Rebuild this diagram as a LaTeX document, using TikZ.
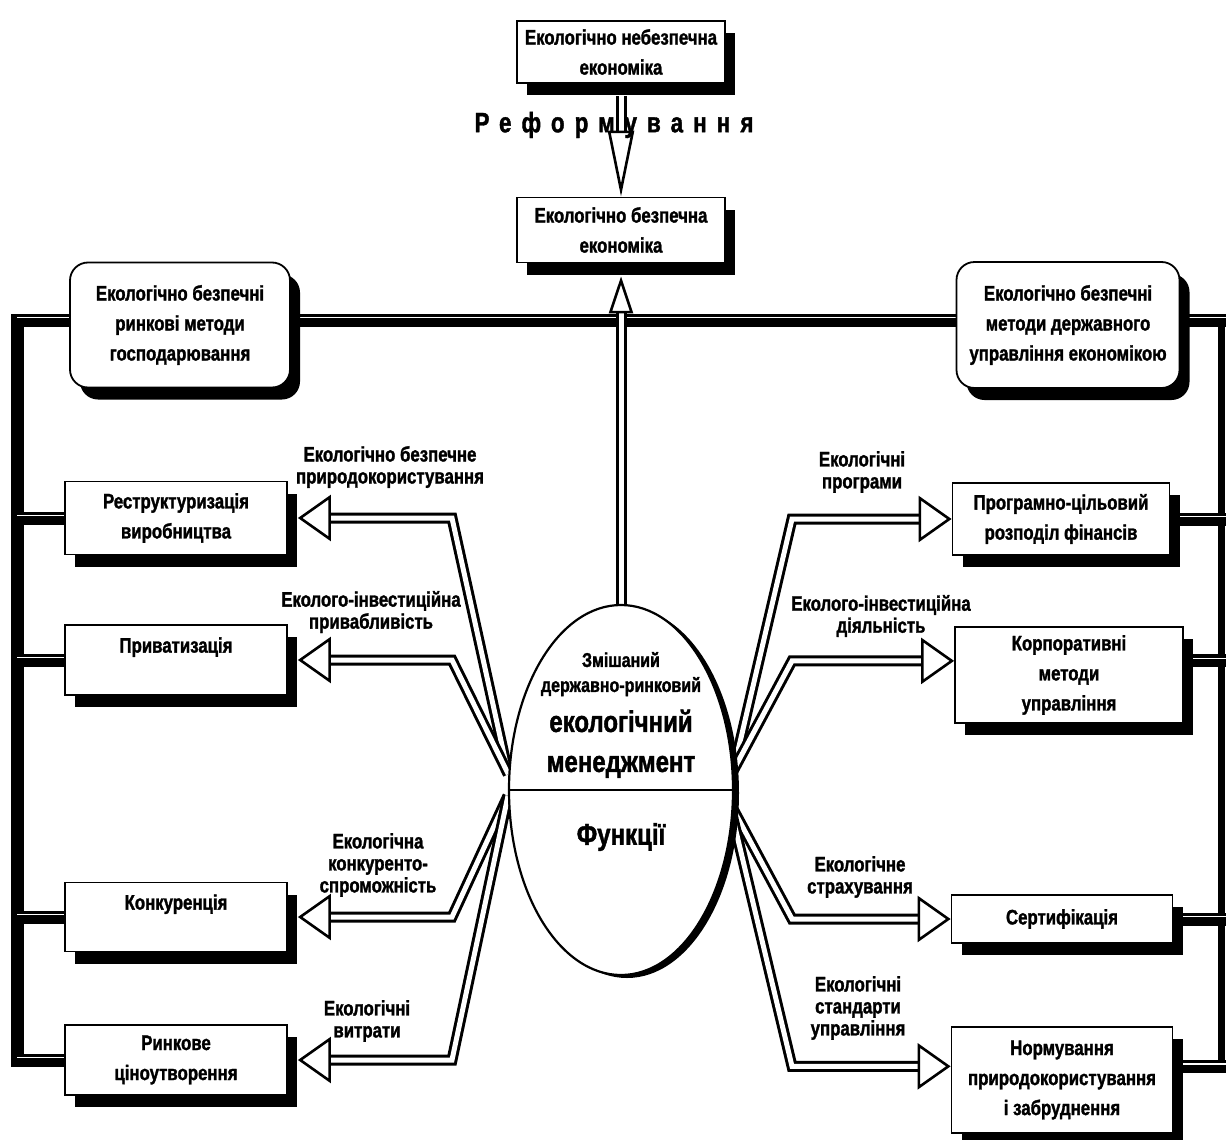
\documentclass[tikz,border=0pt]{standalone}
\usepackage{fontspec}
\setmainfont{Liberation Sans}[FakeStretch=0.8,BoldFeatures={FakeBold=1.4}]
\usetikzlibrary{arrows.meta,shapes.geometric,shadows,backgrounds}

\begin{document}
\begin{tikzpicture}[yscale=-1
    ,every node/.style={font=\bfseries\fontsize{21}{30}\selectfont,align=center,inner sep=0pt}
    ,box/.style={draw,fill=white,line width=1.8pt,drop shadow={shadow xshift=10pt,shadow yshift=-12pt,fill=black,opacity=1}}
    ,rbox/.style={box,rounded corners=18pt}
    ,lbl/.style={font=\bfseries\fontsize{21}{22}\selectfont}
    ,frameline/.style={draw=black,line width=13pt}
    ,framestripe/.style={draw=white,line width=1.6pt,transform canvas={yshift=2.5pt}}
    ,flow/.style={line width=3pt,double=white,double distance=5pt,
        -{Triangle[length=33pt,width=46pt,fill=white,line width=2.6pt]}}
  ]
  \useasboundingbox (0pt,0pt) rectangle (1226pt,1140pt);
  \coordinate (ltop) at (17pt,320pt);
  \coordinate (rtop) at (1221pt,320pt);
  \coordinate (redge) at (1226pt,320pt);
  \coordinate (lbend) at (452pt,0pt);
  \coordinate (rbend) at (792pt,0pt);

  % economy
  \node[box,minimum width=208pt,minimum height=62pt] (unsafe) at (621pt,52pt) {Екологічно небезпечна\\економіка};
  \node[box,minimum width=208pt,minimum height=65pt] (safe) at (621pt,230pt) {Екологічно безпечна\\економіка};
  \node[font=\bfseries\fontsize{28}{30}\selectfont\addfontfeature{LetterSpace=36}] (reform) at (614pt,125pt) {Реформування};

  % methods
  \node[rbox,minimum width=220pt,minimum height=125pt] (mkt) at (180pt,325pt) {Екологічно безпечні\\ринкові методи\\господарювання};
  \node[rbox,minimum width=223pt,minimum height=126pt] (state) at (1068pt,325pt) {Екологічно безпечні\\методи державного\\управління економікою};

  % centre
  \node[ellipse,draw,fill=white,line width=2.2pt,minimum width=224pt,minimum height=370pt,
        drop shadow={shadow xshift=6pt,shadow yshift=-3pt,fill=black,opacity=1}] (core) at (621pt,790pt) {};
  \draw[line width=2.2pt] (core.west) -- (core.east);
  \node[font=\bfseries\fontsize{30}{40}\selectfont] (coretitle) at (621pt,715pt)
    {{\fontsize{20}{25}\selectfont Змішаний}\\[-15pt]{\fontsize{20}{25}\selectfont державно-ринковий}\\екологічний\\менеджмент};
  \node[font=\bfseries\fontsize{30}{40}\selectfont] (funcs) at (621pt,837pt) {Функції};

  % left boxes
  \node[box,minimum width=222pt,minimum height=73pt] (restr) at (176pt,518pt) {Реструктуризація\\виробництва};
  \node[box,minimum width=222pt,minimum height=70pt] (priv) at (176pt,660pt) {Приватизація\\~};
  \node[box,minimum width=222pt,minimum height=69pt] (comp) at (176pt,917pt) {Конкуренція\\~};
  \node[box,minimum width=222pt,minimum height=70pt] (price) at (176pt,1060pt) {Ринкове\\ціноутворення};

  % right boxes
  \node[box,minimum width=217pt,minimum height=72pt] (prog) at (1061pt,519pt) {Програмно-цільовий\\розподіл фінансів};
  \node[box,minimum width=228pt,minimum height=96pt] (corp) at (1069pt,675pt) {Корпоративні\\методи\\управління};
  \node[box,minimum width=221pt,minimum height=48pt] (cert) at (1062pt,919pt) {Сертифікація};
  \node[box,minimum width=221pt,minimum height=106pt] (norm) at (1062pt,1080pt) {Нормування\\природокористування\\і забруднення};

  % labels
  \node[lbl] (l1) at (390pt,467pt) {Екологічно безпечне\\природокористування};
  \node[lbl] (l2) at (371pt,612pt) {Еколого-інвестиційна\\привабливість};
  \node[lbl] (l3) at (378pt,865pt) {Екологічна\\конкуренто-\\спроможність};
  \node[lbl] (l4) at (367pt,1021pt) {Екологічні\\витрати};
  \node[lbl] (r1) at (862pt,472pt) {Екологічні\\програми};
  \node[lbl] (r2) at (881pt,616pt) {Еколого-інвестиційна\\діяльність};
  \node[lbl] (r3) at (860pt,877pt) {Екологічне\\страхування};
  \node[lbl] (r4) at (858pt,1008pt) {Екологічні\\стандарти\\управління};

  \begin{scope}[on background layer]
    % frame lines
    \path[frameline] (redge) -- (ltop) -- (ltop |- price.west) -- (price.west);
    \path[frameline,line width=7pt] (rtop) -- (rtop |- norm.7);
    % horizontal ones carry a thin white stripe
    \foreach \s in {frameline,framestripe} {
      \path[\s] (ltop) -- (redge);
      \path[\s] (restr.west -| ltop) -- (restr.west);
      \path[\s] (priv.west -| ltop) -- (priv.west);
      \path[\s] (comp.west -| ltop) -- (comp.west);
      \path[\s] (price.west -| ltop) -- (price.west);
      \path[\s] (prog.east) -- (prog.east -| redge);
      \path[\s] (corp.7) -- (corp.7 -| redge);
      \path[\s] (cert.east) -- (cert.east -| redge);
      \path[\s] (norm.7) -- (norm.7 -| redge);
    }

    % flows
    \draw[flow,-{Triangle[length=66pt,width=26pt,fill=white,line width=2.6pt]},shorten <=12pt] (unsafe.south) -- (safe.north);
    \draw[flow,-{Triangle[length=37pt,width=24pt,fill=white,line width=2.6pt]},shorten >=13pt] (core.north) -- (safe.south);
    \draw[flow,shorten >=10pt] (core.172) -- (restr.east -| lbend) -- (restr.east);
    \draw[flow,shorten >=10pt] (core.172) -- (priv.east -| lbend) -- (priv.east);
    \draw[flow,shorten >=10pt] (core.183) -- (comp.east -| lbend) -- (comp.east);
    \draw[flow,shorten >=10pt] (core.183) -- (price.east -| lbend) -- (price.east);
    \draw[flow] (core.10) -- (prog.west -| rbend) -- (prog.west);
    \draw[flow] (core.10) -- (corp.173 -| rbend) -- (corp.173);
    \draw[flow] (core.-10) -- (cert.west -| rbend) -- (cert.west);
    \draw[flow] (core.-14) -- (norm.173 -| rbend) -- (norm.173);
  \end{scope}
\end{tikzpicture}
\end{document}
